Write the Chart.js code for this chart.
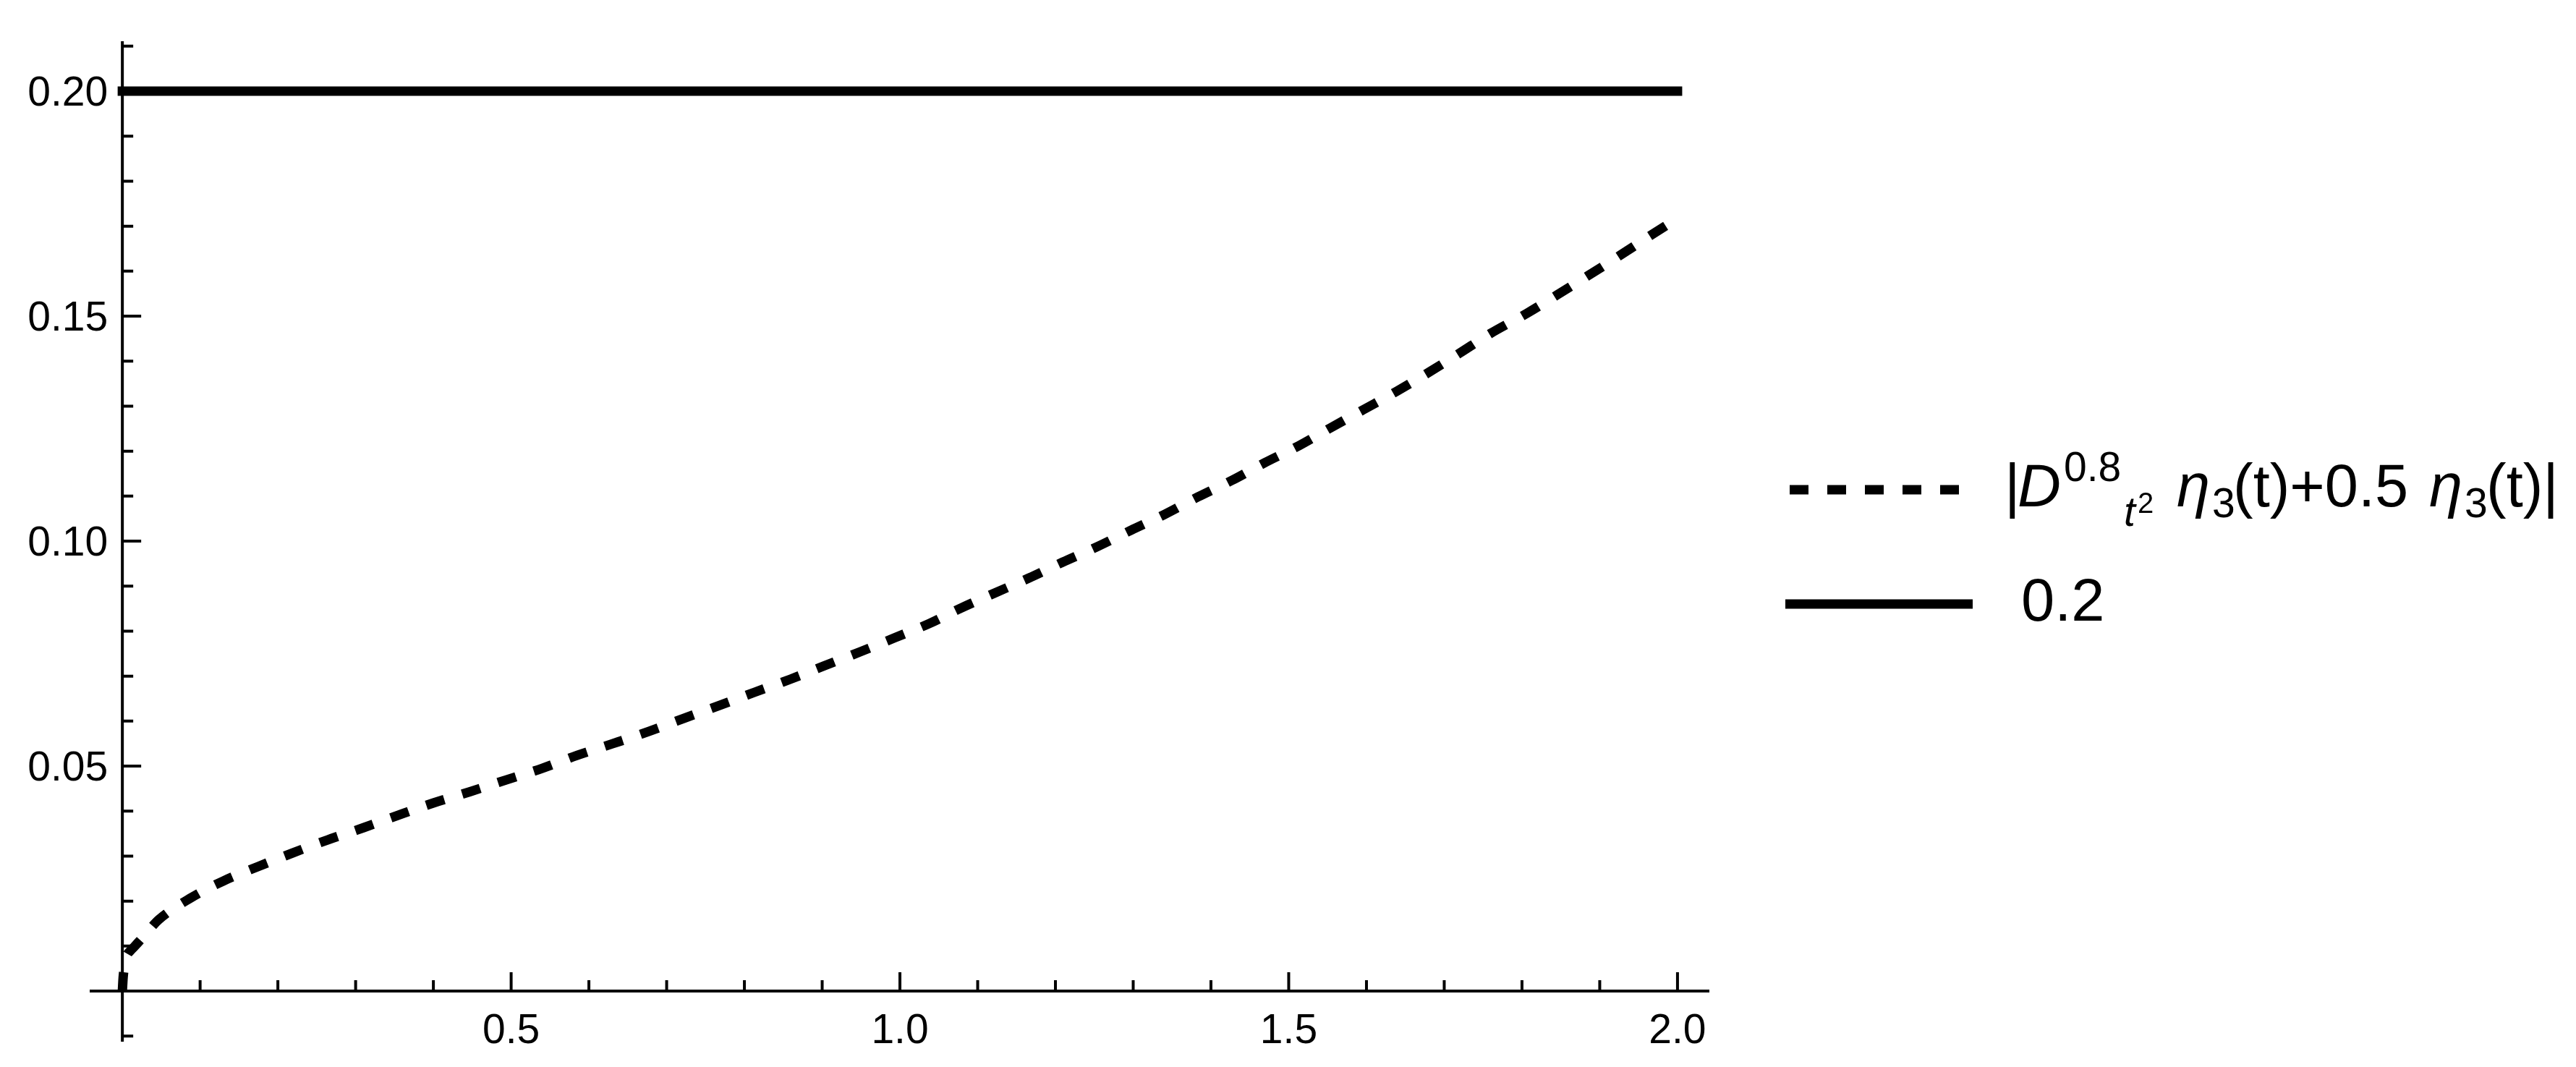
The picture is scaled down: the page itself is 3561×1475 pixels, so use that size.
<!DOCTYPE html>
<html>
<head>
<meta charset="utf-8">
<script src="https://cdn.jsdelivr.net/npm/chart.js@4.4.1/dist/chart.umd.min.js"></script>
<style>
    html, body { margin: 0; padding: 0; background: #fff; }
    #contenedor { width: 3561px; height: 1475px; }
</style>
</head>
<body>
<div id="contenedor"><canvas id="grafica" width="3561" height="1475"></canvas></div>
<script>
// valores: t y |D^0.8 eta3(t) + 0.5 eta3(t)|
const valoresT = [0, 0.001, 0.003, 0.0056, 0.01, 0.015, 0.024, 0.035, 0.047, 0.087,
    0.129, 0.175, 0.219, 0.264, 0.31, 0.355, 0.4, 0.447, 0.493, 0.54,
    0.585, 0.631, 0.677, 0.722, 0.768, 0.813, 0.859, 0.903, 0.949, 0.993,
    1.038, 1.077, 1.121, 1.166, 1.209, 1.253, 1.297, 1.34, 1.383, 1.427,
    1.469, 1.513, 1.554, 1.596, 1.639, 1.681, 1.72, 1.76, 1.806, 1.845,
    1.885, 1.926, 1.966, 2.0];
const valoresCurva = [0, 0.003, 0.0058, 0.0078, 0.0089, 0.0098, 0.0115, 0.0137, 0.0159, 0.0206,
    0.0244, 0.0277, 0.0307, 0.0336, 0.0363, 0.0391, 0.0418, 0.0443, 0.0469, 0.0495,
    0.0524, 0.0550, 0.0577, 0.0606, 0.0635, 0.0664, 0.0693, 0.0723, 0.0754, 0.0785,
    0.0817, 0.0850, 0.0884, 0.0918, 0.0953, 0.0987, 0.1024, 0.1059, 0.1098, 0.1135,
    0.1174, 0.1212, 0.1252, 0.1292, 0.1333, 0.1376, 0.1418, 0.1462, 0.1506, 0.1547,
    0.1590, 0.1635, 0.1680, 0.1717];

// linea constante 0.2 en el tramo [0, 2]
const tramoConstante = [0, 2];
const valorConstante = 0.2;

// ticks con etiqueta
const ticksX = [0.5, 1.0, 1.5, 2.0];
const etiquetasX = ['0.5', '1.0', '1.5', '2.0'];
const ticksY = [0.05, 0.10, 0.15, 0.20];
const etiquetasY = ['0.05', '0.10', '0.15', '0.20'];

const textoLeyenda2 = '0.2';

const fuente = '"Liberation Sans", Arial, sans-serif';

const ejesCruzados = {
    id: 'ejesCruzados',
    beforeDatasetsDraw(chart) {
        const { ctx, chartArea, scales: { x, y } } = chart;
        const x0 = x.getPixelForValue(0);
        const y0 = y.getPixelForValue(0);

        ctx.save();
        ctx.strokeStyle = '#000';
        ctx.lineWidth = 4;
        ctx.lineCap = 'butt';
        ctx.beginPath();
        ctx.moveTo(chartArea.left, y0);
        ctx.lineTo(chartArea.right, y0);
        ctx.moveTo(x0, chartArea.top);
        ctx.lineTo(x0, chartArea.bottom);

        // ticks cada 0.1 en x (los de 0.5 mas largos)
        for (let i = 1; i <= 20; i++) {
            const px = x.getPixelForValue(i / 10);
            const largo = i % 5 === 0 ? 26 : 15;
            ctx.moveTo(px, y0);
            ctx.lineTo(px, y0 - largo);
        }
        // ticks cada 0.01 en y
        for (let i = -1; i <= 21; i++) {
            if (i === 0) continue;
            const py = y.getPixelForValue(i / 100);
            const largo = i % 5 === 0 ? 26 : 15;
            ctx.moveTo(x0, py);
            ctx.lineTo(x0 + largo, py);
        }
        ctx.stroke();

        ctx.fillStyle = '#000';
        ctx.font = '57px ' + fuente;
        ctx.textBaseline = 'alphabetic';
        ctx.textAlign = 'center';
        ticksX.forEach((v, i) => {
            ctx.fillText(etiquetasX[i], x.getPixelForValue(v), y0 + 72);
        });
        ctx.textAlign = 'right';
        ticksY.forEach((v, i) => {
            ctx.fillText(etiquetasY[i], x0 - 20, y.getPixelForValue(v) + 20);
        });
        ctx.restore();
    },
    afterDraw(chart) {
        const { ctx } = chart;
        const curva = chart.data.datasets[0];
        const recta = chart.data.datasets[1];

        ctx.save();
        ctx.strokeStyle = '#000';
        ctx.fillStyle = '#000';

        // muestra discontinua
        ctx.lineWidth = curva.borderWidth;
        ctx.setLineDash(curva.borderDash);
        ctx.lineCap = 'butt';
        ctx.beginPath();
        ctx.moveTo(2474, 677);
        ctx.lineTo(2708, 677);
        ctx.stroke();

        // muestra continua
        ctx.setLineDash([]);
        ctx.lineWidth = recta.borderWidth;
        ctx.beginPath();
        ctx.moveTo(2468, 835);
        ctx.lineTo(2727, 835);
        ctx.stroke();

        // |D^0.8_t^2 eta3(t)+0.5 eta3(t)|
        const normal = (s) => s + 'px ' + fuente;
        const cursiva = (s) => 'italic ' + s + 'px ' + fuente;
        const piezas = [
            [2771, '|', normal(83), 700],
            [2789, 'D', cursiva(83), 700],
            [2853, '0.8', normal(57), 665],
            [2936, 't', cursiva(57), 727],
            [2955, '2', normal(40), 709],
            [3009, 'η', cursiva(83), 700],
            [3058, '3', normal(57), 715],
            [3087, '(t)+0.5', normal(83), 700],
            [3358, 'η', cursiva(83), 700],
            [3407, '3', normal(57), 715],
            [3437, '(t)|', normal(83), 700]
        ];
        ctx.textAlign = 'left';
        ctx.textBaseline = 'alphabetic';
        piezas.forEach(([px, txt, f, base]) => {
            ctx.font = f;
            ctx.fillText(txt, px, base);
        });

        ctx.font = normal(83);
        ctx.fillText(textoLeyenda2, 2794, 858);
        ctx.restore();
    }
};

const ctxGrafica = document.getElementById('grafica').getContext('2d');
const grafica = new Chart(ctxGrafica, {
    type: 'line',
    data: {
        datasets: [{
            label: '|D0.8 t2 η3(t)+0.5 η3(t)|',
            data: valoresT.map((t, i) => ({ x: t, y: valoresCurva[i] })),
            borderColor: '#000',
            borderWidth: 13,
            borderDash: [26, 26],
            borderCapStyle: 'butt',
            pointRadius: 0,
            cubicInterpolationMode: 'monotone',
            fill: false
        }, {
            label: '0.2',
            data: tramoConstante.map(t => ({ x: t, y: valorConstante })),
            borderColor: '#000',
            borderWidth: 13,
            borderCapStyle: 'square',
            pointRadius: 0,
            fill: false
        }]
    },
    options: {
        responsive: false,
        animation: false,
        layout: {
            padding: { left: 124, right: 1198, top: 57, bottom: 35 }
        },
        scales: {
            x: { type: 'linear', min: -0.042, max: 2.041, display: false },
            y: { type: 'linear', min: -0.01125, max: 0.2111, display: false }
        },
        plugins: {
            legend: { display: false },
            tooltip: { enabled: false }
        }
    },
    plugins: [ejesCruzados]
});
</script>
</body>
</html>
